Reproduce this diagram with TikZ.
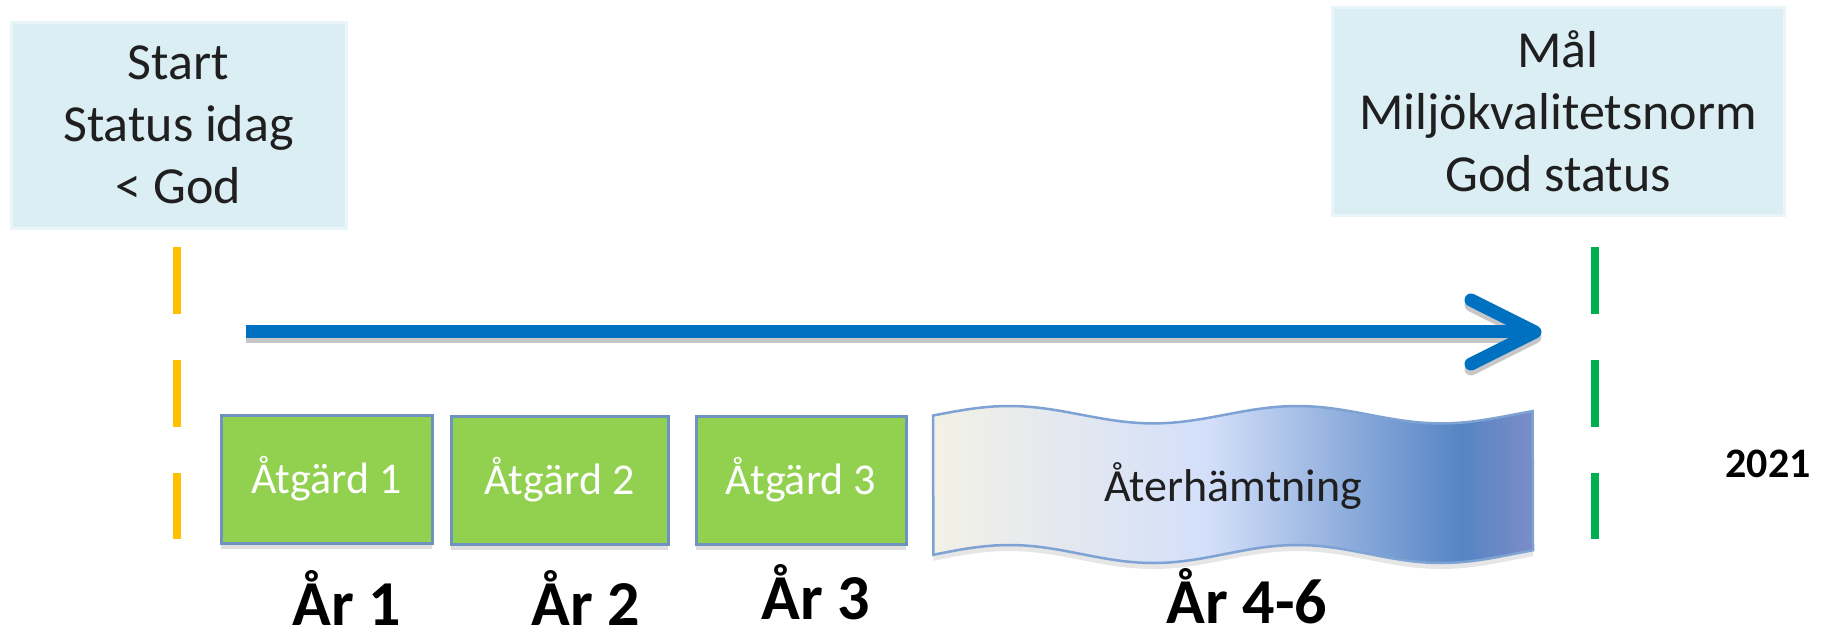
\documentclass[tikz,border=0pt]{standalone}
\usepackage{fontspec}
\setmainfont{Carlito}
\usetikzlibrary{shadows}
\definecolor{boxblue}{HTML}{DAEEF3}
\definecolor{boxedge}{HTML}{E9F5F8}
\definecolor{ylw}{HTML}{FFC000}
\definecolor{grn}{HTML}{00B050}
\definecolor{arrowblue}{HTML}{0070C0}
\definecolor{actfill}{HTML}{92D050}
\definecolor{actedge}{HTML}{6E93C0}
\definecolor{wvA}{HTML}{F3F1E6}
\definecolor{wvB}{HTML}{D3DFFA}
\definecolor{wvC}{HTML}{5584C4}
\definecolor{wvD}{HTML}{7C8CC8}
\definecolor{wvedge}{HTML}{7EA2D4}
\pgfdeclarehorizontalshading{wavesh}{100bp}{color(0bp)=(wvA); color(25bp)=(wvA); color(48bp)=(wvB); color(69bp)=(wvC); color(75bp)=(wvD); color(100bp)=(wvD)}
\tikzset{
  infobox/.style={fill=boxblue, draw=boxedge, line width=3pt, inner sep=0pt, align=center,
    font=\fontsize{52}{62}\selectfont, text=black!88},
  actbox/.style={fill=actfill, draw=actedge, line width=3pt, inner sep=0pt, minimum height=128pt,
    font=\fontsize{44}{52}\selectfont, text=white,
    drop shadow={shadow xshift=0pt, shadow yshift=-6pt, opacity=0.25}},
  yearlabel/.style={font=\fontsize{64}{70}\selectfont\bfseries, anchor=base, inner sep=0pt},
  milestone/.style={line width=8pt, dash pattern=on 67pt off 46pt},
  arrowline/.style={line width=13pt, arrowblue},
  arrowshadow/.style={line width=13pt, black!22}
}
\begin{document}
\begin{tikzpicture}[x=1pt, y=-1pt]
\useasboundingbox (0,0) rectangle (1828,638);

% info boxes
\node[infobox, minimum width=335pt, minimum height=206pt] (start) at (178.5,125) {Start\\Status idag\\< God};
\node[infobox, minimum width=452pt, minimum height=208pt] (goal) at (1558,111) {Mål\\Miljökvalitetsnorm\\God status};

% milestone dashed lines
\coordinate (ys) at (177,247);
\coordinate (ye) at (177,539);
\coordinate (gs) at (1595,247);
\coordinate (ge) at (1595,539);
\draw[milestone, ylw] (ys) -- (ye);
\draw[milestone, grn] (gs) -- (ge);

% timeline arrow
\coordinate (a0) at (246,331);
\coordinate (a1) at (1528,331);
\coordinate (h1) at (1471,300);
\coordinate (h2) at (1535,332);
\coordinate (h3) at (1471,364);
\begin{scope}[transform canvas={yshift=-5pt}]
\draw[arrowshadow] (a0) -- (a1);
\draw[arrowshadow, line cap=round, line join=round] (h1) -- (h2) -- (h3);
\end{scope}
\draw[arrowline] (a0) -- (a1);
\draw[arrowline, line cap=round, line join=round] (h1) -- (h2) -- (h3);

% action boxes
\node[actbox, minimum width=211pt] (act1) at (326.5,479) {Åtgärd 1};
\node[actbox, minimum width=217pt] (act2) at (559.5,480) {Åtgärd 2};
\node[actbox, minimum width=210pt] (act3) at (801,480) {Åtgärd 3};

% recovery wave
\path[draw=wvedge, line width=2.5pt, shading=wavesh,
      drop shadow={shadow xshift=0pt, shadow yshift=-6pt, opacity=0.2}]
  plot[domain=0:1, samples=80, variable=\t] ({933+600*\t},{414.7-8.7*cos(360*(\t-0.127)/0.48)})
  -- plot[domain=1:0, samples=80, variable=\t] ({933+600*\t},{554-9*cos(360*(\t-0.127)/0.48)})
  -- cycle;
\node[font=\fontsize{46}{54}\selectfont, text=black!88] (wave) at (1233,486) {Återhämtning};

% year labels
\node[yearlabel] (y1) at (347,625) {År 1};
\node[yearlabel] (y2) at (586,625) {År 2};
\node[yearlabel] (y3) at (816,619) {År 3};
\node[yearlabel] (y46) at (1247,623) {År 4-6};
\node[font=\fontsize{42}{50}\selectfont\bfseries] (yr) at (1768,464) {2021};
\end{tikzpicture}
\end{document}
